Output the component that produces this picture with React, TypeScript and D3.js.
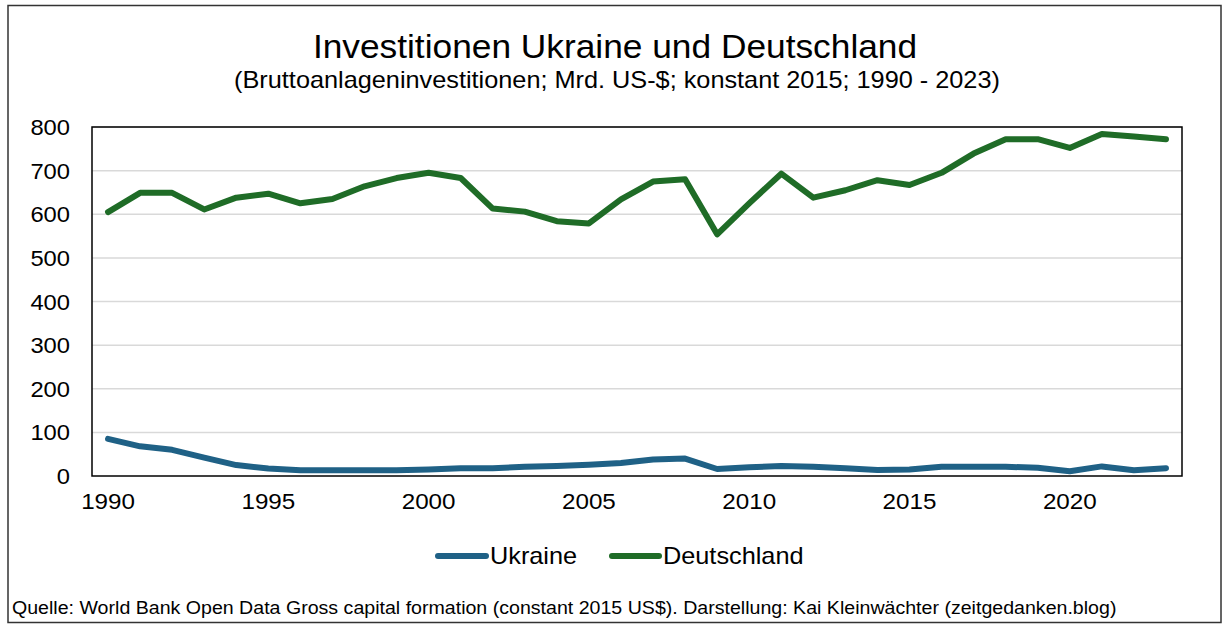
import React from "react";
import * as d3 from "d3";

const years: number[] = d3.range(1990, 2024);
const germany: number[] = [605, 649, 649, 611, 638, 647, 625, 635, 664, 683, 695, 683, 613, 606, 584, 579, 634, 675, 680, 554, 625, 693, 638, 655, 678, 667, 695, 739, 772, 772, 752, 784, 778, 772];
const ukraine: number[] = [85, 68, 60, 42, 25, 17, 13, 13, 13, 13, 15, 18, 18, 21, 23, 26, 30, 38, 40, 16, 20, 23, 21, 18, 14, 15, 21, 21, 21, 19, 11, 22, 13, 18];
const yTicks: number[] = [0, 100, 200, 300, 400, 500, 600, 700, 800];
const xTickYears: number[] = [1990, 1995, 2000, 2005, 2010, 2015, 2020];

const W = 1228, H = 630;
const L = 92, R = 1182, T = 127, B = 476;
const FONT = "'Liberation Sans', Arial, sans-serif";
const BLUE = "#1f6186";
const GREEN = "#1f6c27";

function T2({ x, y, sx, size, anchor, children }: { x: number; y: number; sx: number; size: number; anchor?: string; children: React.ReactNode }) {
  return (
    <text transform={`translate(${x},${y}) scale(${sx},1)`} textAnchor={anchor || "start"} fontSize={size} fill="#000">
      {children}
    </text>
  );
}

export default function App() {
  const x = d3.scaleBand<number>().domain(years).range([L, R]);
  const cx = (yr: number) => (x(yr) as number) + x.bandwidth() / 2;
  const y = d3.scaleLinear().domain([0, 800]).range([B, T]);
  const line = d3.line<number>().x((_, i) => cx(years[i])).y((v) => y(v));

  return (
    <svg width={W} height={H} style={{ position: "absolute", left: 0, top: 0, background: "#fff" }} fontFamily={FONT}>
      <rect x={0} y={0} width={W} height={H} fill="#fff" />
      <rect x={8} y={5.5} width={1213} height={617} fill="none" stroke="#333" strokeWidth={1.5} />
      <T2 x={615} y={58} sx={1.07} size={33} anchor="middle">Investitionen Ukraine und Deutschland</T2>
      <T2 x={617} y={88} sx={1.1} size={23} anchor="middle">(Bruttoanlageninvestitionen; Mrd. US-$; konstant 2015; 1990 - 2023)</T2>
      {yTicks.filter((t) => t > 0).map((t) => (
        <line key={t} x1={L} x2={R} y1={y(t)} y2={y(t)} stroke="#d9d9d9" strokeWidth={1.5} />
      ))}
      {yTicks.map((t) => (
        <T2 key={t} x={70} y={y(t) + 8} sx={1.08} size={22} anchor="end">{t}</T2>
      ))}
      {xTickYears.map((yr) => (
        <T2 key={yr} x={cx(yr)} y={509} sx={1.1} size={22} anchor="middle">{yr}</T2>
      ))}
      <path d={line(ukraine) || ""} fill="none" stroke={BLUE} strokeWidth={6} strokeLinejoin="round" strokeLinecap="round" />
      <path d={line(germany) || ""} fill="none" stroke={GREEN} strokeWidth={6} strokeLinejoin="round" strokeLinecap="round" />
      <rect x={L} y={T} width={R - L} height={B - T} fill="none" stroke="#000" strokeWidth={1.5} />
      <line x1={438} x2={486} y1={556} y2={556} stroke={BLUE} strokeWidth={6} strokeLinecap="round" />
      <T2 x={490} y={564} sx={1.1} size={23}>Ukraine</T2>
      <line x1={612} x2={659} y1={556} y2={556} stroke={GREEN} strokeWidth={6} strokeLinecap="round" />
      <T2 x={663} y={564} sx={1.1} size={23}>Deutschland</T2>
      <T2 x={12} y={614} sx={1.12} size={17.5}>Quelle: World Bank Open Data Gross capital formation (constant 2015 US$). Darstellung: Kai Kleinwächter (zeitgedanken.blog)</T2>
    </svg>
  );
}
